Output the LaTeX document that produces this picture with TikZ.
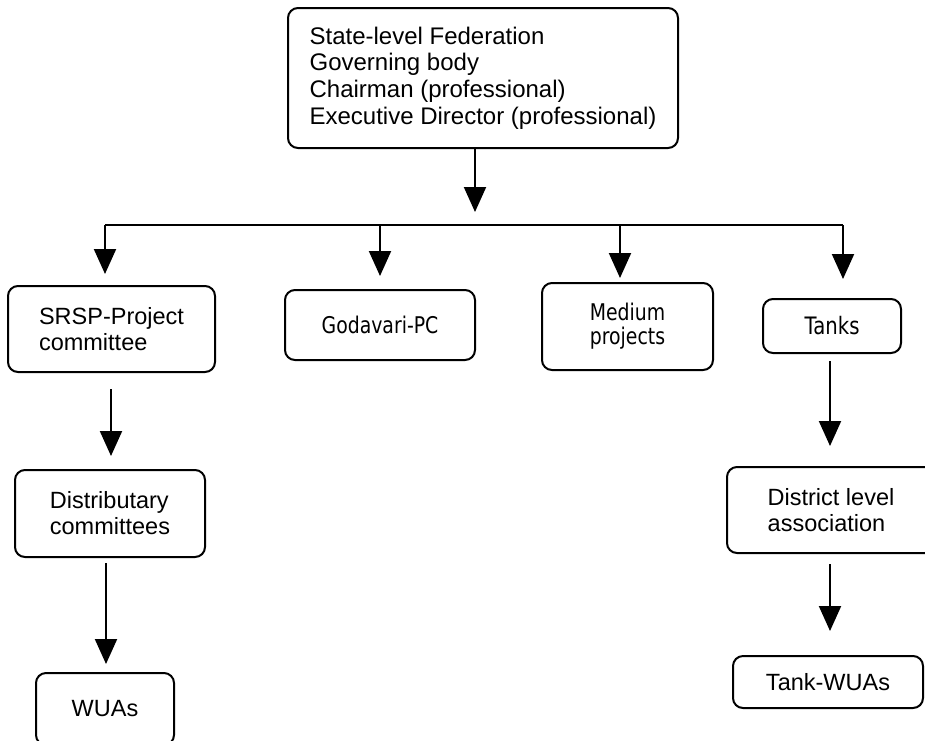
\documentclass[tikz,border=0pt]{standalone}
\usepackage{fontspec}
\setmainfont{Liberation Sans}
\newfontfamily\tah[FakeStretch=0.82]{DejaVu Sans}
\usetikzlibrary{arrows.meta,calc}
\begin{document}
\begin{tikzpicture}[x=0.5pt,y=-0.5pt,
 box/.style={draw,line width=1pt,rounded corners=5pt,inner sep=0pt,align=left},
 sz/.style 2 args={minimum width=#1*0.5pt,minimum height=#2*0.5pt},
 arr/.style={line width=1pt,-{Triangle[length=12.5pt,width=11pt]}},
 ln/.style={line width=1pt},
 ar/.style={font=\fontsize{11.75pt}{13pt}\selectfont},
 ta/.style={font=\tah\fontsize{11.5pt}{12pt}\selectfont}]
\path[use as bounding box, fill=white] (0,0) rectangle (925,740);
\clip (0,0) rectangle (925,740);

\node[box,sz={390}{140},font=\fontsize{12pt}{13.4pt}\selectfont] (top) at (483,78)
  {State-level Federation\\Governing body\\Chairman (professional)\\Executive Director (professional)};
\node[box,sz={207}{86},ar] (srsp) at (111.5,329) {SRSP-Project\\committee};
\node[box,sz={190}{70},ta] (goda) at (380,325) {Godavari-PC};
\node[box,sz={171}{87},ta,align=center] (med) at (627.5,326.5) {Medium\\projects};
\node[box,sz={138}{54},font=\tah\fontsize{12pt}{12pt}\selectfont] (tanks) at (832,326) {Tanks};
\node[box,sz={190}{87},ar] (dist) at (110,513.5) {Distributary\\committees};
\node[box,sz={138}{72},ar] (wuas) at (105,709) {WUAs};
\node[box,sz={208}{86},ar] (distr) at (831,510) {District level\\association};
\node[box,sz={190}{52},ar] (twuas) at (828,682) {Tank-WUAs};

\coordinate (bus) at (475,225);
\coordinate (busL) at (105,225);
\coordinate (busR) at (843,225);
\coordinate (busM) at (620,225);

\draw[arr] (top.south -| bus) -- ($(bus)+(0,-13)$);
\draw[ln] (busL) -- (busR);
\draw[arr] (busL) -- ($(busL |- srsp.north)+(0,-11)$);
\draw[arr] (goda.north |- bus) -- ($(goda.north)+(0,-13)$);
\draw[arr] (busM) -- ($(busM |- med.north)+(0,-4)$);
\draw[arr] (busR) -- ($(busR |- tanks.north)+(0,-19)$);
\draw[arr] ($(srsp.south)+(-0.5,16)$) -- ($(dist.north)+(1,-13)$);
\draw[arr] ($(dist.south)+(-4,5)$) -- ($(wuas.north)+(1,-8)$);
\draw[arr] ($(tanks.south)+(-2,7)$) -- ($(distr.north)+(-1,-20)$);
\draw[arr] ($(distr.south)+(-1,10)$) -- ($(twuas.north)+(2,-24)$);
\end{tikzpicture}
\end{document}
